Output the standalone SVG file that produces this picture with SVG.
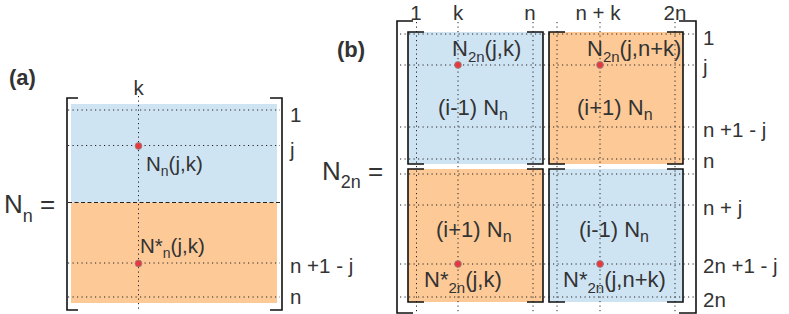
<svg xmlns="http://www.w3.org/2000/svg" width="789" height="314" viewBox="0 0 789 314">
<style>
text{font-family:"Liberation Sans",Arial,sans-serif;fill:#333}
.lab{font-size:20.5px}
.blk{font-size:22px}
.ttl{font-size:22px;font-weight:bold}
.big{font-size:26px}
.dot{stroke:#222;stroke-width:1;stroke-dasharray:1.2 3.3;fill:none}
.dash{stroke:#222;stroke-width:1.2;stroke-dasharray:4 2.5;fill:none}
.br{stroke:#111;stroke-width:1.6;fill:none}
.pt{fill:#e8383d;stroke:#8a8a8a;stroke-width:0.8}
.blue{fill:#cfe4f3}
.orange{fill:#fdca97}
</style>
<rect width="789" height="314" fill="#fff"/>
<g id="panel-a">
  <rect class="blue" x="71" y="104" width="206" height="98.5"/>
  <rect class="orange" x="71" y="202.5" width="206" height="100.5"/>
  <g id="grid-a">
    <path class="dot" d="M68,110H280M68,145.5H280M68,263H280M68,297H280M138.5,96V311"/>
    <path class="dash" d="M68,202.5H281"/>
  </g>
  <path class="br" d="M78,98H67V310H78M270,98H282V310H270"/>
  <circle class="pt" cx="138.5" cy="146" r="3.4"/>
  <circle class="pt" cx="138.5" cy="263.5" r="3.4"/>
  <text class="ttl" x="9" y="85">(a)</text>
  <text class="lab" x="138.5" y="95" text-anchor="middle">k</text>
  <text class="big" x="4" y="213">N<tspan font-size="18" dy="9">n</tspan><tspan dy="-9"> =</tspan></text>
  <text class="lab" x="146" y="171">N<tspan font-size="14" dy="5">n</tspan><tspan dy="-5">(j,k)</tspan></text>
  <text class="lab" x="140" y="253">N*<tspan font-size="14" dy="5">n</tspan><tspan dy="-5">(j,k)</tspan></text>
  <text class="lab" x="290" y="122">1</text>
  <text class="lab" x="290" y="157">j</text>
  <text class="lab" x="290" y="273">n +1 - j</text>
  <text class="lab" x="290" y="304">n</text>
</g>
<g id="panel-b">
  <g id="fills-b">
    <rect class="blue" x="408" y="32" width="135" height="132"/>
    <rect class="orange" x="549" y="32" width="134" height="132"/>
    <rect class="orange" x="408" y="169" width="135" height="133"/>
    <rect class="blue" x="549" y="169" width="134" height="133"/>
  </g>
  <g id="grid-b">
    <path class="dot" d="M400,34H695M400,65H695M400,127H695M400,159H695M400,174H695M400,205H695M400,264H695M400,297H695"/>
    <path class="dot" d="M416.5,22V313M458,22V313M533,22V313M557,22V313M600,22V313M675,22V313"/>
  </g>
  <path class="br" d="M413,21H397V313H413M679,21H696V313H679"/>
  <g id="block-tl">
    <path class="br" d="M424,32H408V164H424M527,32H543V164H527"/>
    <circle class="pt" cx="458" cy="65" r="3.4"/>
    <text class="blk" x="452" y="56">N<tspan font-size="15" dy="6">2n</tspan><tspan dy="-6">(j,k)</tspan></text>
    <text class="blk" x="438" y="115">(i-1) N<tspan font-size="16" dy="5">n</tspan></text>
  </g>
  <g id="block-tr">
    <path class="br" d="M565,32H549V164H565M667,32H683V164H667"/>
    <circle class="pt" cx="600" cy="65" r="3.4"/>
    <text class="blk" x="587" y="56">N<tspan font-size="15" dy="6">2n</tspan><tspan dy="-6">(j,n+k)</tspan></text>
    <text class="blk" x="577" y="115">(i+1) N<tspan font-size="16" dy="5">n</tspan></text>
  </g>
  <g id="block-bl">
    <path class="br" d="M424,169H408V302H424M527,169H543V302H527"/>
    <circle class="pt" cx="458" cy="264" r="3.4"/>
    <text class="blk" x="436" y="237">(i+1) N<tspan font-size="16" dy="5">n</tspan></text>
    <text class="blk" x="424" y="287">N*<tspan font-size="15" dy="6">2n</tspan><tspan dy="-6">(j,k)</tspan></text>
  </g>
  <g id="block-br">
    <path class="br" d="M565,169H549V302H565M667,169H683V302H667"/>
    <circle class="pt" cx="600" cy="264" r="3.4"/>
    <text class="blk" x="579" y="237">(i-1) N<tspan font-size="16" dy="5">n</tspan></text>
    <text class="blk" x="563" y="287">N*<tspan font-size="15" dy="6">2n</tspan><tspan dy="-6">(j,n+k)</tspan></text>
  </g>
  <text class="ttl" x="337" y="57">(b)</text>
  <text class="big" x="322" y="180">N<tspan font-size="18" dy="8">2n</tspan><tspan dy="-8"> =</tspan></text>
  <g id="labels-top">
    <text class="lab" x="416" y="20" text-anchor="middle">1</text>
    <text class="lab" x="458" y="20" text-anchor="middle">k</text>
    <text class="lab" x="530" y="20" text-anchor="middle">n</text>
    <text class="lab" x="598" y="20" text-anchor="middle">n + k</text>
    <text class="lab" x="675" y="20" text-anchor="middle">2n</text>
  </g>
  <g id="labels-right">
    <text class="lab" x="703" y="45">1</text>
    <text class="lab" x="703" y="74">j</text>
    <text class="lab" x="703" y="137">n +1 - j</text>
    <text class="lab" x="703" y="168">n</text>
    <text class="lab" x="703" y="215">n + j</text>
    <text class="lab" x="703" y="273">2n +1 - j</text>
    <text class="lab" x="703" y="307">2n</text>
  </g>
</g>
</svg>
